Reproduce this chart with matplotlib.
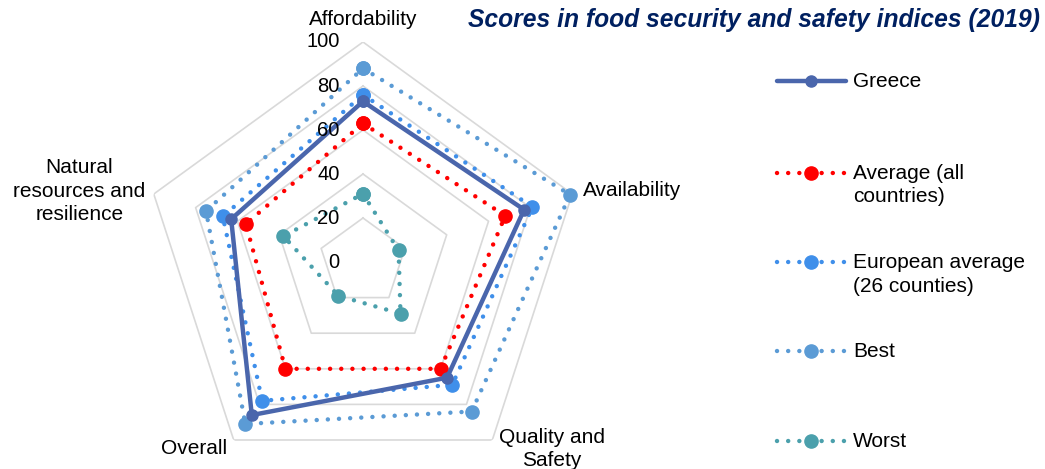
import numpy as np
import matplotlib
matplotlib.use("Agg")
import matplotlib.pyplot as plt

plt.rcParams['font.family'] = ['Liberation Sans', 'DejaVu Sans']

# data
categories = ['Affordability', 'Availability', 'Quality and\nSafety', 'Overall',
              'Natural\nresources and\nresilience']
greece = [73, 77, 65, 86, 63]
average_all = [63, 68, 60, 60, 56]
european = [76, 81, 69, 78, 67]
best = [88, 99, 84, 91, 75]
worst = [31, 17, 29, 19, 38]
series_names = ['Greece', 'Average (all\ncountries)', 'European average\n(26 counties)', 'Best', 'Worst']
ticks = [0, 20, 40, 60, 80, 100]

series = [greece, average_all, european, best, worst]
colors = ['#4A66AC', '#FF0000', '#3F8FEA', '#5B9BD5', '#4BA0AC']

W, H = 1045, 469
fig = plt.figure(figsize=(W / 100, H / 100), dpi=100)

# polar axes: centre at (363, 262) px, radius 220 px
cx, cy, R = 363, 262, 220
ax = fig.add_axes([(cx - R) / W, (H - cy - R) / H, 2 * R / W, 2 * R / H], projection='polar')
ax.set_theta_offset(np.pi / 2)
ax.set_theta_direction(-1)
ax.set_ylim(0, 100)
ax.set_facecolor('none')
ax.grid(False)
ax.spines['polar'].set_visible(False)
ax.set_xticks([])
ax.set_yticks([])

n = len(categories)
ang = np.linspace(0, 2 * np.pi, n, endpoint=False)
ang_c = np.append(ang, ang[0])

# pentagon grid
for t in ticks[1:]:
    ax.plot(ang_c, [t] * (n + 1), color='#D9D9D9', lw=1.2, zorder=1)

for t in ticks:
    ax.annotate(str(t), xy=(0, t), xytext=(-17, 0), textcoords='offset points',
                ha='right', va='center', fontsize=14.5, zorder=6)

dot = (0, (0.01, 2.5))
for i, (vals, c) in enumerate(zip(series, colors)):
    v = vals + vals[:1]
    if i == 0:
        ax.plot(ang_c, v, color=c, lw=3.2, marker='o', ms=8, zorder=5, clip_on=False)
    else:
        ax.plot(ang_c, v, color=c, lw=3.2, linestyle=dot, dash_capstyle='round',
                marker='o', ms=9.5, zorder=3 if i > 2 else 4, clip_on=False)

# category labels
lab = [(106, 'center', 'bottom'), (105, 'left', 'center'), (105, 'left', 'center'),
       (105, 'right', 'center'), (104, 'right', 'center')]
for a, name, (r, ha, va) in zip(ang, categories, lab):
    ax.text(a, r, name, ha=ha, va=va, ma='center', fontsize=15, linespacing=1.3)

fig.text(0.995, 1 - 20 / H, 'Scores in food security and safety indices (2019)',
         ha='right', va='center', fontsize=17.7, fontweight='bold', style='italic',
         color='#002060')

# legend drawn by hand to keep Excel's spacing
lg = fig.add_axes([0, 0, 1, 1])
lg.set_xlim(0, W)
lg.set_ylim(H, 0)
lg.axis('off')
ys = [81, 173, 262, 351, 441]
for i, (name, c, y) in enumerate(zip(series_names, colors, ys)):
    if i == 0:
        lg.plot([777, 846], [y, y], color=c, lw=3.2, solid_capstyle='round')
        lg.plot([811], [y], 'o', color=c, ms=8)
    else:
        lg.plot([777, 846], [y, y], color=c, lw=3.2, linestyle=dot, dash_capstyle='round')
        lg.plot([811], [y], 'o', color=c, ms=9.5)
    lg.text(853, y - 9, name, ha='left', va='top', fontsize=15, linespacing=1.3)

fig.savefig('out.png', dpi=100)
